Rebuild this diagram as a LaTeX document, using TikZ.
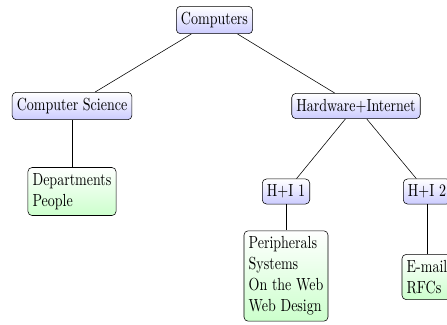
\documentclass[tikz,border=0pt]{standalone}
\usetikzlibrary{shadings}
\tikzset{
  box/.style={draw=black, rounded corners=3pt, align=left, yscale=1.25},
  catbox/.style={box, top color=white, bottom color=blue!20},
  leafbox/.style={box, top color=white, bottom color=green!20},
  link/.style={draw=black, thin}
}
\begin{document}
\begin{tikzpicture}[x=0.7143pt, y=-0.7143pt]
\useasboundingbox (0,0) rectangle (447,324);
\node[catbox] (comp) at (214.5,20) {Computers};
\node[catbox] (cs) at (72,106) {Computer Science};
\node[catbox] (hi) at (356,106) {Hardware+Internet};
\node[leafbox] (dep) at (72,191.5) {Departments\\People};
\node[catbox] (h1) at (286,191.5) {H+I 1};
\node[catbox] (h2) at (427,191.5) {H+I 2};
\node[leafbox] (per) at (286,276) {Peripherals\\Systems\\On the Web\\Web Design};
\node[leafbox] (mail) at (427,277) {E-mail\\RFCs};
\draw[link] (comp) -- (cs);
\draw[link] (comp) -- (hi);
\draw[link] (cs) -- (dep);
\draw[link] (hi) -- (h1);
\draw[link] (hi) -- (h2);
\draw[link] (h1) -- (per);
\draw[link] (h2) -- (mail);
\end{tikzpicture}
\end{document}
